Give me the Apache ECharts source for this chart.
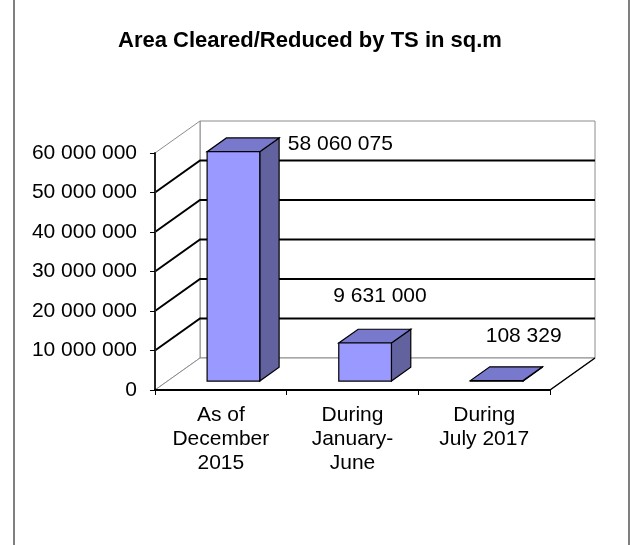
<!DOCTYPE html>
<html>
<head>
<meta charset="utf-8">
<script src="https://cdn.jsdelivr.net/npm/echarts@6/dist/echarts.min.js"></script>
<style>
  html, body { margin: 0; padding: 0; background: #fff; }
  #chart { width: 630px; height: 545px; }
</style>
</head>
<body>
<div id="chart"></div>
<script>
// chart data
const categories = ['As of\nDecember\n2015', 'During\nJanuary-\nJune', 'During\nJuly 2017']
const values = [58060075, 9631000, 108329]
const yTicks = [0, 10000000, 20000000, 30000000, 40000000, 50000000, 60000000]

const FONT = 'Liberation Sans, Arial, sans-serif'
// depth of the fake 3d box (pixels)
const DX = 45
const DY = -32

function fmt (n) {
  return String(n).replace(/\B(?=(\d{3})+(?!\d))/g, ' ')
}

const chart = echarts.init(document.getElementById('chart'))

// walls, floor and the back grid lines
function renderWalls (params, api) {
  const cs = params.coordSys
  const x0 = cs.x
  const x1 = cs.x + cs.width
  const y0 = api.coord([0, yTicks[0]])[1]
  const yTop = api.coord([0, yTicks[yTicks.length - 1]])[1]
  const gray = { stroke: '#8c8c8c', lineWidth: 1 }
  const children = [
    // back wall
    { type: 'polygon', shape: { points: [[x0 + DX, yTop + DY], [x1 + DX, yTop + DY], [x1 + DX, y0 + DY], [x0 + DX, y0 + DY]] }, style: Object.assign({ fill: '#fff' }, gray) },
    // left wall
    { type: 'polygon', shape: { points: [[x0, y0], [x0 + DX, y0 + DY], [x0 + DX, yTop + DY], [x0, yTop]] }, style: Object.assign({ fill: '#fff' }, gray) },
    // floor
    { type: 'polygon', shape: { points: [[x0, y0], [x1, y0], [x1 + DX, y0 + DY], [x0 + DX, y0 + DY]] }, style: Object.assign({ fill: '#fff' }, gray) },
    { type: 'line', shape: { x1: x1, y1: y0, x2: x1 + DX, y2: y0 + DY }, style: { stroke: '#000', lineWidth: 1.5 } }
  ]
  yTicks.slice(1, -1).forEach(t => {
    const y = api.coord([0, t])[1]
    children.push({
      type: 'polyline',
      shape: { points: [[x0, y], [x0 + DX, y + DY], [x1 + DX, y + DY]] },
      style: { stroke: '#000', lineWidth: 2, fill: null }
    })
  })
  return { type: 'group', children: children }
}

// label nudges, like the hand placed labels of the original
const labelShift = [[97, 0], [5, -40], [17, -37]]

function renderBar (params, api) {
  const i = api.value(0)
  const v = api.value(1)
  const top = api.coord([i, v])
  const base = api.coord([i, 0])
  const band = api.size([1, 0])[0]
  const w = band * 0.4
  const df = 0.28
  const db = 0.71
  const xL = top[0] - w / 2 + DX * df
  const xR = xL + w
  const yT = top[1] + DY * df
  const yB = base[1] + DY * df
  const ddx = DX * (db - df)
  const ddy = DY * (db - df)
  const edge = { stroke: '#000', lineWidth: 1.2 }
  const cx = top[0] + DX * 0.5
  const cy = top[1] + DY * 0.5
  const sh = labelShift[params.dataIndex]
  return {
    type: 'group',
    children: [
      { type: 'polygon', shape: { points: [[xR, yT], [xR + ddx, yT + ddy], [xR + ddx, yB + ddy], [xR, yB]] }, style: Object.assign({ fill: '#62629e' }, edge) },
      { type: 'polygon', shape: { points: [[xL, yT], [xR, yT], [xR + ddx, yT + ddy], [xL + ddx, yT + ddy]] }, style: Object.assign({ fill: '#7878cc' }, edge) },
      { type: 'rect', shape: { x: xL, y: yT, width: w, height: yB - yT }, style: Object.assign({ fill: '#9999ff' }, edge) },
      {
        type: 'text',
        style: {
          text: fmt(v), x: cx + sh[0], y: cy + sh[1],
          align: 'center', verticalAlign: 'middle',
          font: '21px ' + FONT, fill: '#000'
        }
      }
    ]
  }
}

chart.setOption({
  animation: false,
  backgroundColor: '#fff',
  title: {
    text: 'Area Cleared/Reduced by TS in sq.m',
    left: 113,
    top: 25,
    textStyle: { fontFamily: FONT, fontSize: 22, fontWeight: 'bold', color: '#000' }
  },
  graphic: [
    { type: 'rect', shape: { x: 14, y: -5, width: 615, height: 560 }, style: { fill: null, stroke: '#808080', lineWidth: 2 } }
  ],
  grid: { left: 155, right: 80, top: 153, bottom: 155 },
  xAxis: {
    type: 'category',
    data: categories,
    boundaryGap: true,
    axisLine: { lineStyle: { color: '#000', width: 2 } },
    axisTick: { show: true, length: 5, alignWithLabel: false, lineStyle: { color: '#000' } },
    axisLabel: { interval: 0, margin: 13, fontSize: 21, lineHeight: 24, fontFamily: FONT, color: '#000' },
    z: 10
  },
  yAxis: {
    type: 'value',
    min: 0,
    max: 60000000,
    interval: 10000000,
    axisLine: { show: true, lineStyle: { color: '#222', width: 2 } },
    axisTick: { show: true, length: 5, lineStyle: { color: '#000' } },
    splitLine: { show: false },
    axisLabel: { margin: 18, fontSize: 21, fontFamily: FONT, color: '#000', formatter: v => fmt(v) },
    z: 10
  },
  series: [
    {
      type: 'custom',
      renderItem: renderWalls,
      data: [[0, 0]],
      silent: true,
      z: 1
    },
    {
      type: 'custom',
      renderItem: renderBar,
      data: values.map((v, i) => [i, v]),
      z: 2
    }
  ]
})
</script>
</body>
</html>
